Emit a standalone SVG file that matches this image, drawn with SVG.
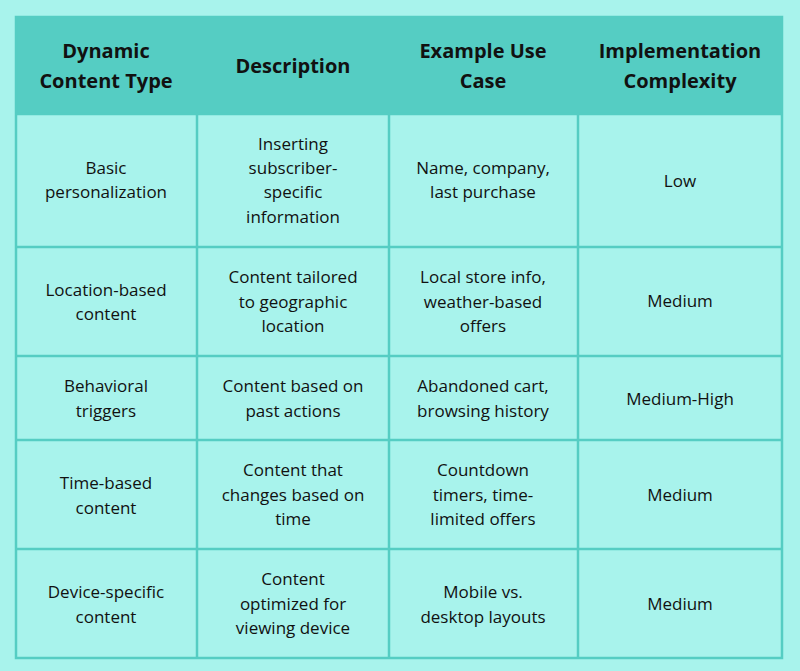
<svg xmlns="http://www.w3.org/2000/svg" width="800" height="671" viewBox="0 0 800 671">
<style>
.h{font-family:"Open Sans",sans-serif;font-weight:bold;font-size:20px;fill:#111;text-anchor:middle}
.t{font-family:"Open Sans",sans-serif;font-size:17px;fill:#111;text-anchor:middle}
.g{stroke:#55cdc3;stroke-width:2.5;fill:none}
</style>
<rect width="800" height="671" fill="#a8f3ec"/>
<rect x="16" y="17" width="766" height="97" fill="#55cdc3"/>
<g id="grid" class="g">
<rect x="16" y="17" width="766" height="641"/>
<path d="M16 114H782M16 247H782M16 356H782M16 440H782M16 549H782M197 114V658M389 114V658M578 114V658"/>
</g>
<g id="header">
<text class="h" x="106" y="58">Dynamic</text><text class="h" x="106" y="88">Content Type</text>
<text class="h" x="293" y="73">Description</text>
<text class="h" x="483" y="58">Example Use</text><text class="h" x="483" y="88">Case</text>
<text class="h" x="680" y="58">Implementation</text><text class="h" x="680" y="88">Complexity</text>
</g>
<g id="row1">
<text class="t" x="106" y="174">Basic</text><text class="t" x="106" y="198">personalization</text>
<text class="t" x="293" y="150">Inserting</text><text class="t" x="293" y="174">subscriber-</text><text class="t" x="293" y="198">specific</text><text class="t" x="293" y="223">information</text>
<text class="t" x="483" y="174">Name, company,</text><text class="t" x="483" y="198">last purchase</text>
<text class="t" x="680" y="187">Low</text>
</g>
<g id="row2">
<text class="t" x="106" y="296">Location-based</text><text class="t" x="106" y="320">content</text>
<text class="t" x="293" y="283">Content tailored</text><text class="t" x="293" y="308">to geographic</text><text class="t" x="293" y="332">location</text>
<text class="t" x="483" y="283">Local store info,</text><text class="t" x="483" y="308">weather-based</text><text class="t" x="483" y="332">offers</text>
<text class="t" x="680" y="307">Medium</text>
</g>
<g id="row3">
<text class="t" x="106" y="392">Behavioral</text><text class="t" x="106" y="417">triggers</text>
<text class="t" x="293" y="392">Content based on</text><text class="t" x="293" y="417">past actions</text>
<text class="t" x="483" y="392">Abandoned cart,</text><text class="t" x="483" y="417">browsing history</text>
<text class="t" x="680" y="405">Medium-High</text>
</g>
<g id="row4">
<text class="t" x="106" y="489">Time-based</text><text class="t" x="106" y="514">content</text>
<text class="t" x="293" y="476">Content that</text><text class="t" x="293" y="501">changes based on</text><text class="t" x="293" y="525">time</text>
<text class="t" x="483" y="476">Countdown</text><text class="t" x="483" y="501">timers, time-</text><text class="t" x="483" y="525">limited offers</text>
<text class="t" x="680" y="501">Medium</text>
</g>
<g id="row5">
<text class="t" x="106" y="598">Device-specific</text><text class="t" x="106" y="623">content</text>
<text class="t" x="293" y="585">Content</text><text class="t" x="293" y="610">optimized for</text><text class="t" x="293" y="634">viewing device</text>
<text class="t" x="483" y="598">Mobile vs.</text><text class="t" x="483" y="623">desktop layouts</text>
<text class="t" x="680" y="610">Medium</text>
</g>
</svg>
